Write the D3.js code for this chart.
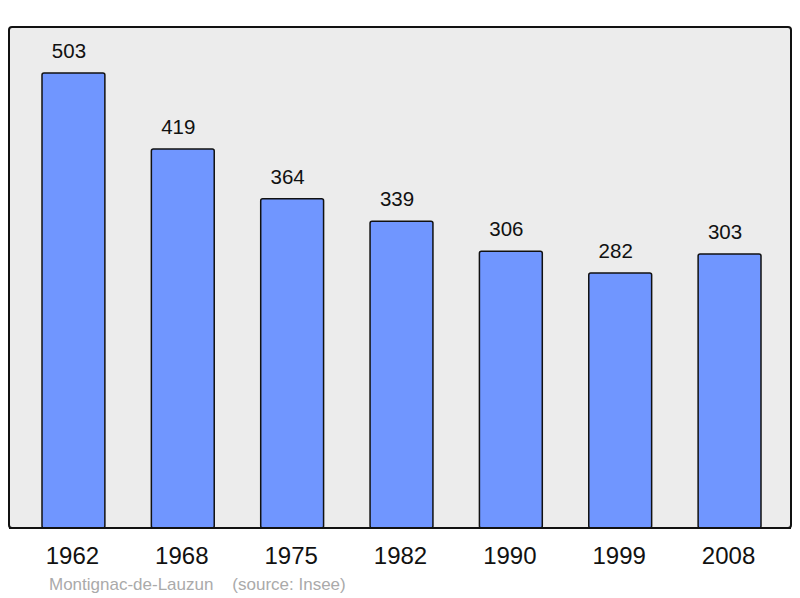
<!DOCTYPE html>
<html>
<head>
<meta charset="utf-8">
<script src="https://cdn.jsdelivr.net/npm/d3@7"></script>
<style>
  body { margin: 0; background: #fff; }
  svg { display: block; font-family: "Liberation Sans", Arial, sans-serif; }
</style>
</head>
<body>
<div id="wrapper"></div>
<script>
const years = ["1962", "1968", "1975", "1982", "1990", "1999", "2008"];
const population = [503, 419, 364, 339, 306, 282, 303];
const commune = "Montignac-de-Lauzun";
const source = "(source: Insee)";

function buildChart() {
    const width = 800, height = 598;
    const box = { left: 9, top: 27, right: 791, bottom: 528 };

    const svg = d3.select("#wrapper").append("svg")
        .attr("width", width)
        .attr("height", height);

    // plot frame
    svg.append("rect")
        .attr("x", box.left)
        .attr("y", box.top)
        .attr("width", box.right - box.left)
        .attr("height", box.bottom - box.top)
        .attr("rx", 3)
        .attr("fill", "#ececec")
        .attr("stroke", "#111")
        .attr("stroke-width", 2);

    const x = d3.scaleBand()
        .domain(years)
        .range([42, 761])
        .paddingInner(0.425)
        .paddingOuter(0);

    const y = d3.scaleLinear()
        .domain([0, d3.max(population)])
        .range([box.bottom, 73]);

    const data = years.map((yr, i) => ({ year: yr, value: population[i] }));

    svg.append("g").selectAll("rect")
        .data(data)
        .join("rect")
        .attr("x", d => x(d.year))
        .attr("y", d => y(d.value))
        .attr("width", x.bandwidth())
        .attr("height", d => y(0) - y(d.value))
        .attr("rx", 2)
        .attr("fill", "#7096ff")
        .attr("stroke", "#111")
        .attr("stroke-width", 1.5);

    // redraw bottom edge of the frame over the bars
    svg.append("line")
        .attr("x1", box.left)
        .attr("x2", box.right)
        .attr("y1", box.bottom)
        .attr("y2", box.bottom)
        .attr("stroke", "#111")
        .attr("stroke-width", 2);

    svg.append("g").selectAll("text")
        .data(data)
        .join("text")
        .attr("x", d => x(d.year) + x.bandwidth() / 2 - 4.5)
        .attr("y", d => y(d.value) - 15)
        .attr("text-anchor", "middle")
        .attr("font-size", "20.5px")
        .attr("fill", "#111")
        .text(d => d.value);

    const axis = d3.axisBottom(x).tickSize(0).tickPadding(0);
    const gx = svg.append("g")
        .attr("transform", `translate(-1, ${box.bottom + 36})`)
        .call(axis);
    gx.select(".domain").remove();
    gx.selectAll("text")
        .attr("font-size", "24px")
        .attr("font-family", "Liberation Sans, Arial, sans-serif")
        .attr("fill", "#111")
        .attr("dy", 0);

    svg.append("text")
        .attr("x", 49)
        .attr("y", 590)
        .attr("font-size", "17px")
        .attr("fill", "#aaa")
        .attr("xml:space", "preserve")
        .text(commune + "    " + source);
}

buildChart();
</script>
</body>
</html>
